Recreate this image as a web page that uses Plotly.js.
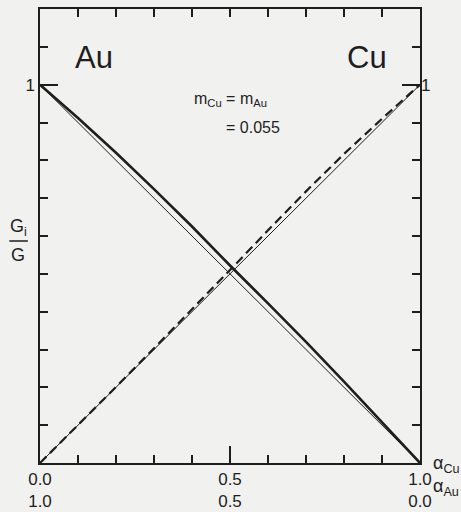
<!DOCTYPE html>
<html>
<head>
<meta charset="utf-8">
<script src="https://cdn.plot.ly/plotly-3.0.1.min.js"></script>
<style>
  html, body { margin: 0; padding: 0; background: #f1f1f0; }
  #chart { width: 461px; height: 512px; }
</style>
</head>
<body>
<div id="chart"></div>
<script>
// Concentration of copper (alpha_Cu); alpha_Au = 1 - alpha_Cu
const alphaCu = [0.0, 0.1, 0.2, 0.3, 0.4, 0.5, 0.6, 0.7, 0.8, 0.9, 1.0];

// Ideal (linear) partial fractions G_i/G
const auLinear = [1.0, 0.9, 0.8, 0.7, 0.6, 0.5, 0.4, 0.3, 0.2, 0.1, 0.0];
const cuLinear = [0.0, 0.1, 0.2, 0.3, 0.4, 0.5, 0.6, 0.7, 0.8, 0.9, 1.0];

// Computed fractions for m_Cu = m_Au = 0.055
const auComputed = [1.0, 0.912, 0.820, 0.724, 0.625, 0.522, 0.422, 0.320, 0.215, 0.108, 0.0];
const cuComputed = [0.0, 0.100, 0.201, 0.303, 0.406, 0.510, 0.615, 0.718, 0.817, 0.910, 1.0];

// Bottom axis labels: alpha_Cu on the first row, alpha_Au on the second
const xLabelVals = [0.0, 0.5, 1.0];
const xLabelCu = ['0.0', '0.5', '1.0'];
const xLabelAu = ['1.0', '0.5', '0.0'];

const ink = '#1e1e1e';
const font = 'Liberation Sans, Arial, sans-serif';
const tw = 2;

const traces = [
  { x: alphaCu, y: auLinear, mode: 'lines', line: { color: ink, width: 1 } },
  { x: alphaCu, y: cuLinear, mode: 'lines', line: { color: ink, width: 1 } },
  { x: alphaCu, y: auComputed, mode: 'lines', line: { color: ink, width: 2.6 } },
  { x: alphaCu, y: cuComputed, mode: 'lines', line: { color: ink, width: 2.2, dash: '9px,5px' } },
  // empty traces that attach the extra tick axes to the plot
  { x: [], y: [], xaxis: 'x2', yaxis: 'y', mode: 'lines', hoverinfo: 'skip' },
  { x: [], y: [], xaxis: 'x', yaxis: 'y3', mode: 'lines', hoverinfo: 'skip' }
];

const layout = {
  width: 461, height: 512,
  margin: { l: 40, r: 41, t: 9, b: 49 },
  paper_bgcolor: '#f1f1f0',
  plot_bgcolor: '#f1f1f0',
  showlegend: false,
  font: { family: font, color: ink, size: 16 },
  // bottom axis: long tick at the middle, short ticks every 0.1
  xaxis: {
    range: [0, 1],
    tickmode: 'array', tickvals: xLabelVals,
    ticktext: xLabelVals.map((v, i) => xLabelCu[i] + '<br>' + xLabelAu[i]),
    ticks: 'inside', ticklen: 17, tickwidth: tw, tickcolor: ink,
    minor: { dtick: 0.1, tick0: 0, ticks: 'inside', ticklen: 8, tickwidth: tw, tickcolor: ink, showgrid: false },
    showline: true, linecolor: ink, linewidth: 1.6, mirror: false,
    showgrid: false, zeroline: false,
    tickfont: { size: 17, family: font, color: ink }
  },
  // top axis: short ticks only
  xaxis2: {
    overlaying: 'x', anchor: 'y', side: 'top',
    range: [0, 1], dtick: 0.1, tick0: 0,
    ticks: 'inside', ticklen: 8, tickwidth: tw, tickcolor: ink,
    showticklabels: false, showgrid: false, zeroline: false,
    showline: true, linecolor: ink, linewidth: 1.6
  },
  // left and right axes: long tick at 1, short ticks every 0.1
  yaxis: {
    range: [0, 1.2],
    tickmode: 'array', tickvals: [1], ticktext: ['1'],
    ticks: 'inside', ticklen: 18, tickwidth: tw, tickcolor: ink,
    minor: { dtick: 0.1, tick0: 0, ticks: 'inside', ticklen: 8, tickwidth: tw, tickcolor: ink, showgrid: false },
    showline: true, linecolor: ink, linewidth: 1.6, mirror: 'ticks',
    tickfont: { size: 17, family: font, color: ink },
    showgrid: false, zeroline: false
  },
  yaxis3: {
    overlaying: 'y', anchor: 'x', side: 'right',
    range: [0, 1.2], tickmode: 'array', tickvals: [1], ticktext: ['1'],
    ticks: '', tickfont: { size: 17, family: font, color: ink },
    showgrid: false, zeroline: false, showline: false
  },
  annotations: [
    { xref: 'x', yref: 'y', x: 0.142, y: 1.071, xanchor: 'center', text: 'Au', showarrow: false,
      font: { size: 31, family: font, color: ink } },
    { xref: 'x', yref: 'y', x: 0.861, y: 1.071, xanchor: 'center', text: 'Cu', showarrow: false,
      font: { size: 31, family: font, color: ink } },
    { xref: 'x', yref: 'y', x: 0.5, y: 0.962, xanchor: 'center', text: 'm<sub>Cu</sub> = m<sub>Au</sub>', showarrow: false,
      font: { size: 16, family: font, color: ink } },
    { xref: 'x', yref: 'y', x: 0.637, y: 0.888, xanchor: 'right', text: '= 0.055', showarrow: false,
      font: { size: 16, family: font, color: ink } },
    { xref: 'paper', yref: 'paper', x: 1.028, y: -0.034, xanchor: 'left', text: 'α<sub>Cu</sub>', showarrow: false,
      font: { size: 18, family: font, color: ink } },
    { xref: 'paper', yref: 'paper', x: 1.028, y: -0.083, xanchor: 'left', text: 'α<sub>Au</sub>', showarrow: false,
      font: { size: 18, family: font, color: ink } },
    { xref: 'paper', yref: 'paper', x: -0.057, y: 0.518, xanchor: 'center', text: 'G<sub>i</sub>', showarrow: false,
      font: { size: 18, family: font, color: ink } },
    { xref: 'paper', yref: 'paper', x: -0.058, y: 0.458, xanchor: 'center', text: 'G', showarrow: false,
      font: { size: 18, family: font, color: ink } },
    // fraction bar of the axis title
    { xref: 'paper', yref: 'paper', x: -0.032, y: 0.489, text: '', showarrow: true,
      arrowhead: 0, arrowwidth: 1.6, arrowcolor: ink, ax: -20, ay: 0, standoff: 0, startstandoff: 0 }
  ]
};

Plotly.newPlot('chart', traces, layout, { displayModeBar: false, staticPlot: true });
</script>
</body>
</html>
